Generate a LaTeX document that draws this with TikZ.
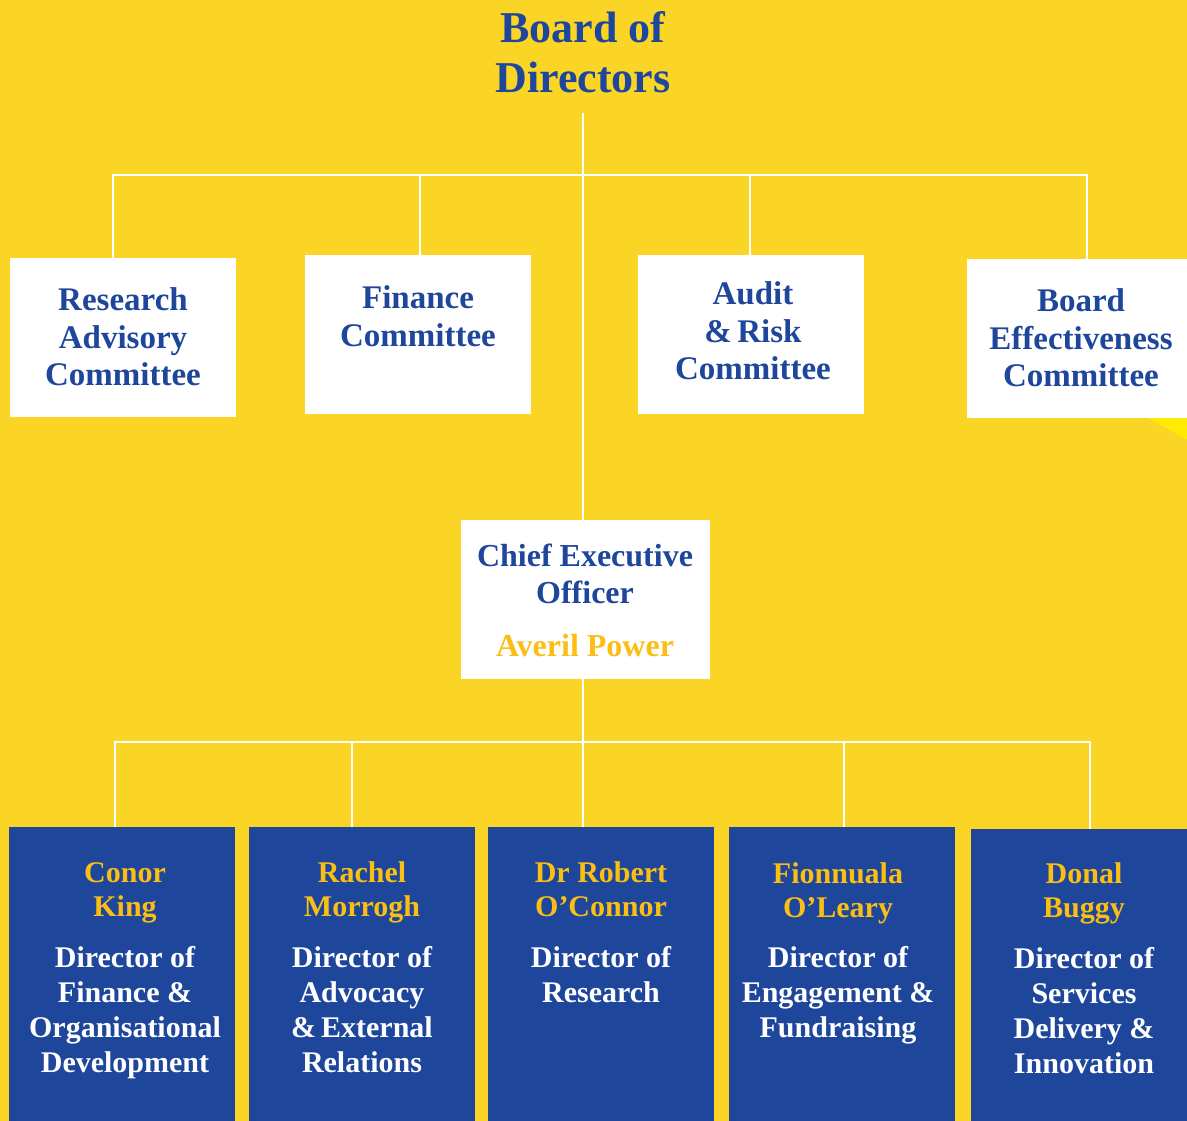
\documentclass[tikz,border=0pt]{standalone}
\usepackage{fontspec}
\setmainfont{Liberation Serif}
\definecolor{bgyellow}{RGB}{251,213,38}
\definecolor{navy}{RGB}{30,70,155}
\definecolor{gold}{RGB}{251,190,20}
\definecolor{brightyellow}{RGB}{255,236,0}
\begin{document}
\begin{tikzpicture}[x=1pt,y=-1pt,
  wire/.style={draw=white,line width=2.8pt,line join=miter},
  whitebox/.style={rectangle,fill=white,draw=none,inner sep=0pt,minimum width=226pt,minimum height=159pt},
  bluebox/.style={rectangle,fill=navy,draw=none,inner sep=0pt,minimum width=226pt,minimum height=300pt},
  ctext/.style={text=navy,font=\bfseries\fontsize{33}{37.5}\selectfont,align=center,inner sep=0pt},
  ttext/.style={text=navy,font=\bfseries\fontsize{44}{50}\selectfont,align=center,inner sep=0pt},
  ntext/.style={text=gold,font=\bfseries\fontsize{30}{34}\selectfont,align=center,inner sep=0pt},
  dtext/.style={text=white,font=\bfseries\fontsize{30}{35}\selectfont,align=center,inner sep=0pt}]
\useasboundingbox (0,0) rectangle (1187,1121);
\clip (0,0) rectangle (1187,1121);
\fill[bgyellow] (0,0) rectangle (1187,1121);
\fill[brightyellow] (1148,418) -- (1190,418) -- (1190,441) -- cycle;

% title
\node[ttext] (board) at (583,52) {Board of\\Directors};

% committees
\node[whitebox] (rac) at (123,337.5) {};
\node[whitebox] (fin) at (418,334.5) {};
\node[whitebox] (aud) at (751,334.5) {};
\node[whitebox, minimum width=240pt] (bec) at (1087,338.5) {};
\node[ctext] (racT) at (123,337) {Research\\Advisory\\Committee};
\node[ctext] (finT) at (418,316) {Finance\\Committee};
\node[ctext] (audT) at (753,331) {Audit\\\&\,Risk\\Committee};
\node[ctext] (becT) at (1081,338) {Board\\Effectiveness\\Committee};

% CEO
\node[whitebox, minimum width=249pt] (ceo) at (585.5,599.5) {};
\node[ctext, font=\bfseries\fontsize{32}{37}\selectfont] (ceoT) at (585,574) {Chief Executive\\Officer};
\node[ctext, text=gold, font=\bfseries\fontsize{32}{37}\selectfont] (ceoN) at (585,646) {Averil Power};

% directors
\node[bluebox] (b1) at (122,977) {};
\node[bluebox] (b2) at (362,977) {};
\node[bluebox] (b3) at (601,977) {};
\node[bluebox] (b4) at (842,977) {};
\node[bluebox, minimum width=238pt] (b5) at (1090,979) {};

\node[ntext] (n1) at (125,893) {Conor\\King};
\node[ntext] (n2) at (362,892) {Rachel\\Morrogh};
\node[ntext] (n3) at (601,889) {Dr Robert\\O’Connor};
\node[ntext] (n4) at (838,893) {Fionnuala\\O’Leary};
\node[ntext] (n5) at (1084,893) {Donal\\Buggy};

\node[dtext, anchor=north] (t1) at (125,946) {Director of\\Finance \&\\Organisational\\Development};
\node[dtext, anchor=north] (t2) at (362,946) {Director of\\Advocacy\\\&\,External\\Relations};
\node[dtext, anchor=north] (t3) at (601,946) {Director of\\Research};
\node[dtext, anchor=north] (t4) at (838,946) {Director of\\Engagement \&\\Fundraising};
\node[dtext, anchor=north] (t5) at (1084,947) {Director of\\Services\\Delivery \&\\Innovation};

% connectors: board level
\coordinate (top) at (583,113);
\coordinate (d1) at (113,175);
\coordinate (d2) at (420,175);
\coordinate (d3) at (750,175);
\coordinate (d4) at (1087,175);
\draw[wire] (top) -- (top |- ceo.north);
\draw[wire] (d1 |- rac.north) -- (d1) -- (d4) -- (d4 |- bec.north);
\draw[wire] (d2) -- (d2 |- fin.north);
\draw[wire] (d3) -- (d3 |- aud.north);

% connectors: executive level
\coordinate (e1) at (115,742);
\coordinate (e2) at (352,742);
\coordinate (e3) at (583,742);
\coordinate (e4) at (844,742);
\coordinate (e5) at (1090,742);
\draw[wire] (top |- ceo.south) -- (e3 |- b3.north);
\draw[wire] (e1 |- b1.north) -- (e1) -- (e5) -- (e5 |- b5.north);
\draw[wire] (e2) -- (e2 |- b2.north);
\draw[wire] (e4) -- (e4 |- b4.north);
\end{tikzpicture}
\end{document}
